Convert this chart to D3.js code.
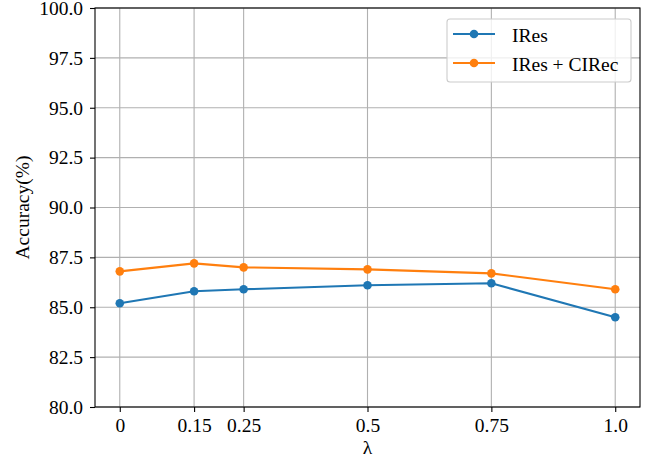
<!DOCTYPE html>
<html>
<head>
<meta charset="utf-8">
<script src="https://cdn.jsdelivr.net/npm/d3@7"></script>
<style>
  body { margin: 0; background: #fff; }
  svg text { font-family: "Liberation Serif", "Times New Roman", serif; fill: #000; }
</style>
</head>
<body>
<svg id="chart" width="664" height="464"></svg>
<script>
// data
const lambdas = [0, 0.15, 0.25, 0.5, 0.75, 1.0];
const xTickLabels = ['0', '0.15', '0.25', '0.5', '0.75', '1.0'];
const iresValues = [85.2, 85.8, 85.9, 86.1, 86.2, 84.5];
const ciRecValues = [86.8, 87.2, 87.0, 86.9, 86.7, 85.9];
const yTicks = [80, 82.5, 85, 87.5, 90, 92.5, 95, 97.5, 100];
const seriesNames = ['IRes', 'IRes + CIRec'];
const colors = ['#1f77b4', '#ff7f0e'];

const plotLeft = 95, plotRight = 640, plotTop = 8, plotBottom = 407;
const fontSize = '19.5px';
const svg = d3.select('#chart');

const x = d3.scaleLinear().domain([-0.05, 1.05]).range([plotLeft, plotRight]);
const y = d3.scaleLinear().domain([80, 100]).range([plotBottom, plotTop]);

// grid
const grid = svg.append('g');
grid.selectAll('.gx').data(lambdas).enter().append('line')
    .attr('x1', d => x(d)).attr('x2', d => x(d))
    .attr('y1', plotTop).attr('y2', plotBottom)
    .attr('stroke', '#b0b0b0').attr('stroke-width', 1.1);
grid.selectAll('.gy').data(yTicks).enter().append('line')
    .attr('x1', plotLeft).attr('x2', plotRight)
    .attr('y1', d => y(d)).attr('y2', d => y(d))
    .attr('stroke', '#b0b0b0').attr('stroke-width', 1.1);

// axes
const xAxis = svg.append('g')
    .attr('transform', `translate(0,${plotBottom})`)
    .call(d3.axisBottom(x).tickValues(lambdas).tickFormat((d, i) => xTickLabels[i]).tickSize(5).tickPadding(6));
const yAxis = svg.append('g')
    .attr('transform', `translate(${plotLeft},0)`)
    .call(d3.axisLeft(y).tickValues(yTicks).tickFormat(d3.format('.1f')).tickSize(5).tickPadding(7));
[xAxis, yAxis].forEach(a => {
    a.select('.domain').remove();
    a.selectAll('.tick line').attr('stroke', '#000').attr('stroke-width', 1.1);
    a.selectAll('.tick text').style('font-size', fontSize);
});

// frame
svg.append('rect')
    .attr('x', plotLeft).attr('y', plotTop)
    .attr('width', plotRight - plotLeft).attr('height', plotBottom - plotTop)
    .attr('fill', 'none').attr('stroke', '#000').attr('stroke-width', 1.1);

// lines
const allSeries = [iresValues, ciRecValues];
const line = d3.line().x((d, i) => x(lambdas[i])).y(d => y(d));
allSeries.forEach((vals, k) => {
    svg.append('path').datum(vals)
        .attr('d', line)
        .attr('fill', 'none')
        .attr('stroke', colors[k])
        .attr('stroke-width', 2.1);
    svg.selectAll('.pt' + k).data(vals).enter().append('circle')
        .attr('cx', (d, i) => x(lambdas[i]))
        .attr('cy', d => y(d))
        .attr('r', 4.3)
        .attr('fill', colors[k]);
});

// axis labels
svg.append('text')
    .attr('x', (plotLeft + plotRight) / 2).attr('y', 454)
    .attr('text-anchor', 'middle')
    .style('font-size', fontSize)
    .text('λ');
svg.append('text')
    .attr('transform', `translate(29,${(plotTop + plotBottom) / 2}) rotate(-90)`)
    .attr('text-anchor', 'middle')
    .style('font-size', fontSize)
    .text('Accuracy(%)');

// legend
const legend = svg.append('g');
legend.append('rect')
    .attr('x', 447).attr('y', 19).attr('width', 184).attr('height', 63)
    .attr('rx', 3)
    .attr('fill', '#fff').attr('fill-opacity', 0.8)
    .attr('stroke', '#cccccc').attr('stroke-width', 1.1);
seriesNames.forEach((name, k) => {
    const ly = 34 + k * 29;
    legend.append('line')
        .attr('x1', 453).attr('x2', 495).attr('y1', ly).attr('y2', ly)
        .attr('stroke', colors[k]).attr('stroke-width', 2.1);
    legend.append('circle')
        .attr('cx', 474).attr('cy', ly).attr('r', 4.3).attr('fill', colors[k]);
    legend.append('text')
        .attr('x', 512).attr('y', ly + 7.5)
        .style('font-size', fontSize)
        .text(name);
});
</script>
</body>
</html>
